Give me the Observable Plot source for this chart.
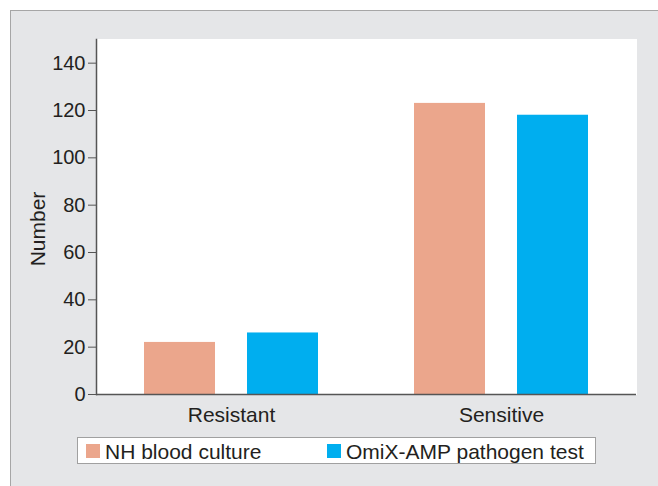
<!DOCTYPE html>
<html>
<head>
<meta charset="utf-8">
<script src="https://cdn.jsdelivr.net/npm/d3@7"></script>
<script src="https://cdn.jsdelivr.net/npm/@observablehq/plot@0.6"></script>
<style>
  html, body { margin: 0; padding: 0; background: #ffffff; }
  body { width: 658px; height: 486px; position: relative; overflow: hidden;
         font-family: "Liberation Sans", Arial, Helvetica, sans-serif; }
  #panel { position: absolute; left: 10px; top: 10px; width: 700px; height: 520px;
           background: #e5e6e8; border-left: 1.5px solid #a6a6a6; border-top: 1.5px solid #a6a6a6; }
  #chart { position: absolute; left: 0; top: 0; }
  #legend { position: absolute; left: 77px; top: 437px; width: 519px; height: 27px;
            background: #ffffff; border: 1px solid #a0a0a0; box-sizing: border-box;
            font-size: 21px; color: #231f20; }
  .item { position: absolute; top: 0; height: 27px; line-height: 27px; white-space: nowrap; }
  .sw { position: absolute; top: 6px; width: 14px; height: 14px; }
</style>
</head>
<body>
<div id="panel"></div>
<div id="chart"></div>
<div id="legend"></div>
<script>
const categories = ["Resistant", "Sensitive"];
const series = ["NH blood culture", "OmiX-AMP pathogen test"];
const nhValues = [22, 123];
const omixValues = [26, 118];
const colors = ["#eba68c", "#00aeef"];
const yTicks = [0, 20, 40, 60, 80, 100, 120, 140];
const yLabel = "Number";

const data = categories.flatMap((c, i) => [
  {category: c, series: series[0], value: nhValues[i]},
  {category: c, series: series[1], value: omixValues[i]}
]);

const chart = Plot.plot({
  width: 658,
  height: 486,
  marginLeft: 96,
  marginRight: 22,
  marginTop: 39,
  marginBottom: 92,
  style: {background: "transparent", fontFamily: "'Liberation Sans', Arial, Helvetica, sans-serif", fontSize: "20px", color: "#231f20", overflow: "visible"},
  fx: {domain: categories, padding: 0, label: null},
  x: {domain: series, axis: null, paddingInner: 0.31, paddingOuter: 0.46},
  y: {domain: [0, 150]},
  color: {domain: series, range: colors},
  marks: [
    Plot.frame({fill: "white", stroke: "white", strokeWidth: 1}),
    Plot.barY(data, {fx: "category", x: "series", y: "value", fill: "series"}),
    Plot.ruleY([0], {stroke: "#555", strokeWidth: 1.5}),
    Plot.frame({anchor: "left", facetAnchor: "left", stroke: "#555", strokeWidth: 1.5}),
    Plot.axisY({ticks: yTicks, tickSize: 8, tickPadding: 3, label: null, fontSize: 20, stroke: "#555", fill: "#231f20"}),
    Plot.axisFx({anchor: "bottom", tickSize: 0, tickPadding: 13, label: null, fontSize: 21, fill: "#231f20"}),
    Plot.text([{category: categories[0], t: yLabel}], {fx: "category", text: "t", frameAnchor: "left", rotate: -90, dx: -58, dy: 12, textAnchor: "middle", fontSize: 21, fill: "#231f20"})
  ]
});
document.getElementById("chart").appendChild(chart);

const legend = document.getElementById("legend");
const positions = [[8, 27], [249, 268]];
series.forEach((s, i) => {
  const sw = document.createElement("div");
  sw.className = "sw";
  sw.style.left = positions[i][0] + "px";
  sw.style.background = colors[i];
  legend.appendChild(sw);
  const t = document.createElement("div");
  t.className = "item";
  t.style.left = positions[i][1] + "px";
  t.textContent = s;
  legend.appendChild(t);
});
</script>
</body>
</html>
